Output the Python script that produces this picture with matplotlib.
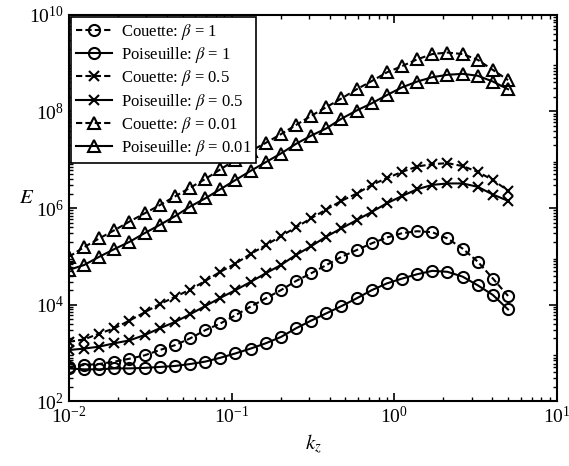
import numpy as np
import matplotlib
matplotlib.use("Agg")
import matplotlib.pyplot as plt

plt.rcParams["font.family"] = ["Liberation Serif", "DejaVu Serif"]
plt.rcParams["mathtext.fontset"] = "stix"

# wavenumber grid (log-spaced, 30 points)
kz = np.logspace(-2, np.log10(5.0), 30)

# log10(E)
couette_b1 = [2.71, 2.75, 2.77, 2.82, 2.88, 2.95, 3.06, 3.16, 3.30, 3.47,
              3.61, 3.78, 3.96, 4.13, 4.30, 4.49, 4.65, 4.82, 4.99, 5.13,
              5.27, 5.39, 5.48, 5.52, 5.50, 5.37, 5.16, 4.89, 4.54, 4.18]
poiseuille_b1 = [2.68, 2.66, 2.66, 2.68, 2.68, 2.69, 2.71, 2.73, 2.77, 2.82,
                 2.90, 2.99, 3.09, 3.20, 3.33, 3.51, 3.67, 3.82, 3.97, 4.13,
                 4.30, 4.44, 4.54, 4.63, 4.70, 4.68, 4.58, 4.40, 4.20, 3.90]
couette_b05 = [3.23, 3.28, 3.40, 3.51, 3.67, 3.84, 4.01, 4.16, 4.31, 4.49,
               4.68, 4.85, 5.05, 5.23, 5.42, 5.60, 5.79, 5.97, 6.15, 6.30,
               6.48, 6.62, 6.75, 6.86, 6.91, 6.93, 6.87, 6.75, 6.58, 6.36]
poiseuille_b05 = [3.06, 3.09, 3.13, 3.20, 3.26, 3.37, 3.51, 3.64, 3.80, 3.97,
                  4.14, 4.30, 4.47, 4.65, 4.82, 5.03, 5.21, 5.41, 5.58, 5.75,
                  5.92, 6.10, 6.25, 6.39, 6.48, 6.51, 6.51, 6.44, 6.28, 6.15]
couette_b001 = [4.99, 5.19, 5.37, 5.54, 5.72, 5.89, 6.06, 6.24, 6.42, 6.60,
                6.80, 7.00, 7.18, 7.35, 7.53, 7.72, 7.91, 8.09, 8.27, 8.46,
                8.63, 8.81, 8.94, 9.08, 9.19, 9.22, 9.19, 9.07, 8.86, 8.65]
poiseuille_b001 = [4.72, 4.82, 4.99, 5.15, 5.30, 5.48, 5.65, 5.83, 6.03, 6.20,
                   6.39, 6.58, 6.77, 6.95, 7.13, 7.33, 7.50, 7.65, 7.85, 8.02,
                   8.17, 8.34, 8.50, 8.62, 8.71, 8.76, 8.78, 8.74, 8.62, 8.46]

series = [
    (couette_b1, "o", "--", r"Couette: $\beta$ = 1"),
    (poiseuille_b1, "o", "-", r"Poiseuille: $\beta$ = 1"),
    (couette_b05, "x", "--", r"Couette: $\beta$ = 0.5"),
    (poiseuille_b05, "x", "-", r"Poiseuille: $\beta$ = 0.5"),
    (couette_b001, "^", "--", r"Couette: $\beta$ = 0.01"),
    (poiseuille_b001, "^", "-", r"Poiseuille: $\beta$ = 0.01"),
]

fig = plt.figure(figsize=(5.69, 4.66), dpi=100)
ax = fig.add_axes([0.121, 0.139, 0.858, 0.829])

for vals, mk, ls, lab in series:
    line, = ax.plot(kz, 10 ** np.array(vals), color="black", linestyle=ls,
                    marker=mk, markersize=8 if mk != "x" else 6.5,
                    markerfacecolor="none", markeredgewidth=1.5,
                    linewidth=1.5, label=lab)
    if ls == "--":
        line.set_dashes((3, 1.5))

ax.set_xscale("log")
ax.set_yscale("log")
ax.set_xlim(1e-2, 1e1)
ax.set_ylim(1e2, 1e10)
ax.set_yticks([1e2, 1e4, 1e6, 1e8, 1e10])
ax.tick_params(which="both", direction="in", top=True, right=True, labelsize=14)
ax.tick_params(which="major", length=6, width=1.2)
ax.tick_params(which="minor", length=3, width=1)
for sp in ax.spines.values():
    sp.set_linewidth(1.5)

ax.set_xlabel(r"$k_z$", fontsize=15)
ax.set_ylabel(r"$E$", fontsize=15, rotation=0, labelpad=2)

leg = ax.legend(loc="upper left", fontsize=12, frameon=True, fancybox=False,
                edgecolor="black", framealpha=1, borderaxespad=0.1,
                handlelength=2.2, labelspacing=0.2, borderpad=0.3,
                handletextpad=0.5)
leg.get_frame().set_linewidth(1.2)

fig.savefig("out.png", dpi=100)
